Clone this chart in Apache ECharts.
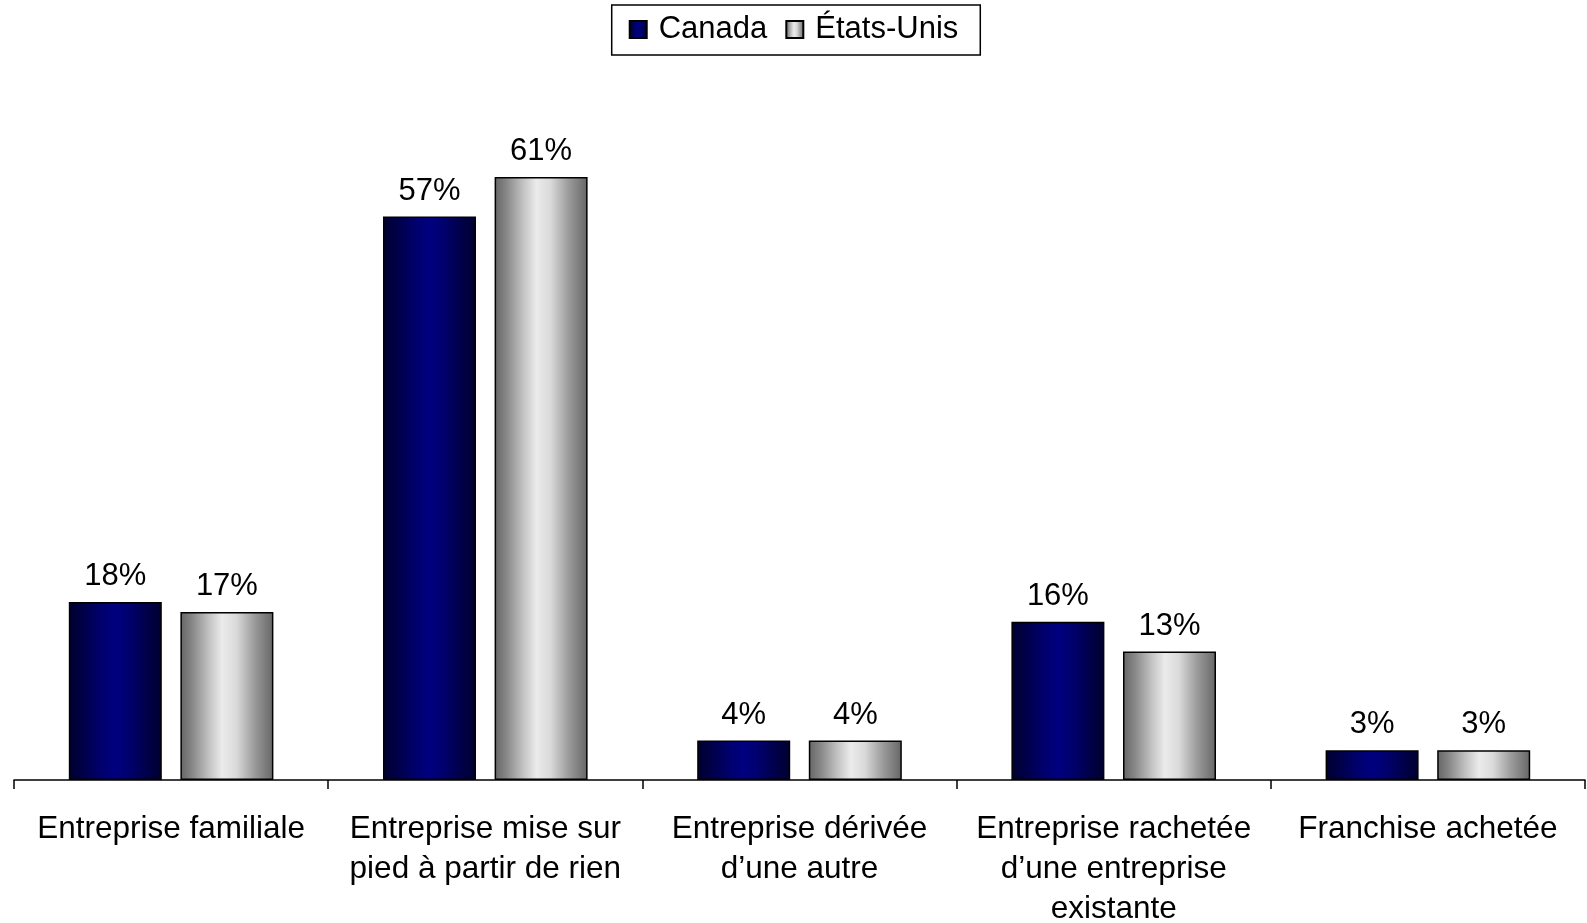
<!DOCTYPE html>
<html>
<head>
<meta charset="utf-8">
<script src="https://cdn.jsdelivr.net/npm/echarts@6/dist/echarts.min.js"></script>
<style>
  html, body { margin: 0; padding: 0; background: #fff; }
  #chart { width: 1587px; height: 923px; }
</style>
</head>
<body>
<div id="chart"></div>
<script>
// Origine des entreprises : Canada vs États-Unis (%)
const categories = [
  'Entreprise familiale',
  'Entreprise mise sur\npied à partir de rien',
  'Entreprise dérivée\nd’une autre',
  'Entreprise rachetée\nd’une entreprise\nexistante',
  'Franchise achetée'
];
const canadaValues = [18, 57, 4, 16, 3];
const usValues = [17, 61, 4, 13, 3];
const seriesNames = ['Canada', 'États-Unis'];

const FONT = '"Liberation Sans", Arial, sans-serif';

// Horizontal banded gradients giving the cylinder-like shading
function banded(stops) {
  return {
    type: 'linear', x: 0, y: 0, x2: 1, y2: 0,
    colorStops: stops.map(([offset, color]) => ({ offset, color }))
  };
}
const navyFill = banded([
  [0, '#000030'], [0.15, '#000048'], [0.35, '#00006e'],
  [0.5, '#000080'], [0.65, '#00006e'], [0.85, '#000048'], [1, '#000030']
]);
const greyFill = banded([
  [0, '#666666'], [0.12, '#858585'], [0.3, '#c0c0c0'],
  [0.45, '#ebebeb'], [0.6, '#dadada'], [0.8, '#9a9a9a'], [1, '#666666']
]);

const labelStyle = {
  show: true,
  position: 'top',
  distance: 10,
  formatter: '{c}%',
  color: '#000',
  fontSize: 31,
  fontFamily: FONT
};

const chart = echarts.init(document.getElementById('chart'), null, { renderer: 'canvas' });
chart.setOption({
  animation: false,
  backgroundColor: '#fff',
  legend: {
    top: 5,
    left: 'center',
    data: seriesNames,
    icon: 'rect',
    itemWidth: 17,
    itemHeight: 17,
    itemGap: 18,
    padding: [9, 22, 10, 17],
    borderColor: '#000',
    borderWidth: 1.5,
    textStyle: { fontSize: 31, color: '#000', fontFamily: FONT, padding: [0, 0, 0, 7] }
  },
  grid: { left: 14, right: 2, top: 88, bottom: 143, containLabel: false, outerBoundsMode: 'none' },
  xAxis: {
    type: 'category',
    data: categories,
    axisLine: { lineStyle: { color: '#000', width: 1.5 } },
    axisTick: { show: true, length: 9, lineStyle: { color: '#000', width: 1.5 } },
    axisLabel: {
      interval: 0,
      margin: 29,
      color: '#000',
      fontSize: 31.5,
      lineHeight: 40,
      fontFamily: FONT
    }
  },
  yAxis: {
    type: 'value',
    min: 0,
    max: 70,
    show: false,
    splitLine: { show: false }
  },
  series: [
    {
      name: seriesNames[0],
      type: 'bar',
      data: canadaValues,
      barWidth: 93,
      barGap: '20%',
      itemStyle: { color: navyFill, borderColor: '#000', borderWidth: 1.5 },
      label: labelStyle
    },
    {
      name: seriesNames[1],
      type: 'bar',
      data: usValues,
      barWidth: 93,
      barGap: '20%',
      itemStyle: { color: greyFill, borderColor: '#000', borderWidth: 1.5 },
      label: labelStyle
    }
  ]
});
</script>
</body>
</html>
